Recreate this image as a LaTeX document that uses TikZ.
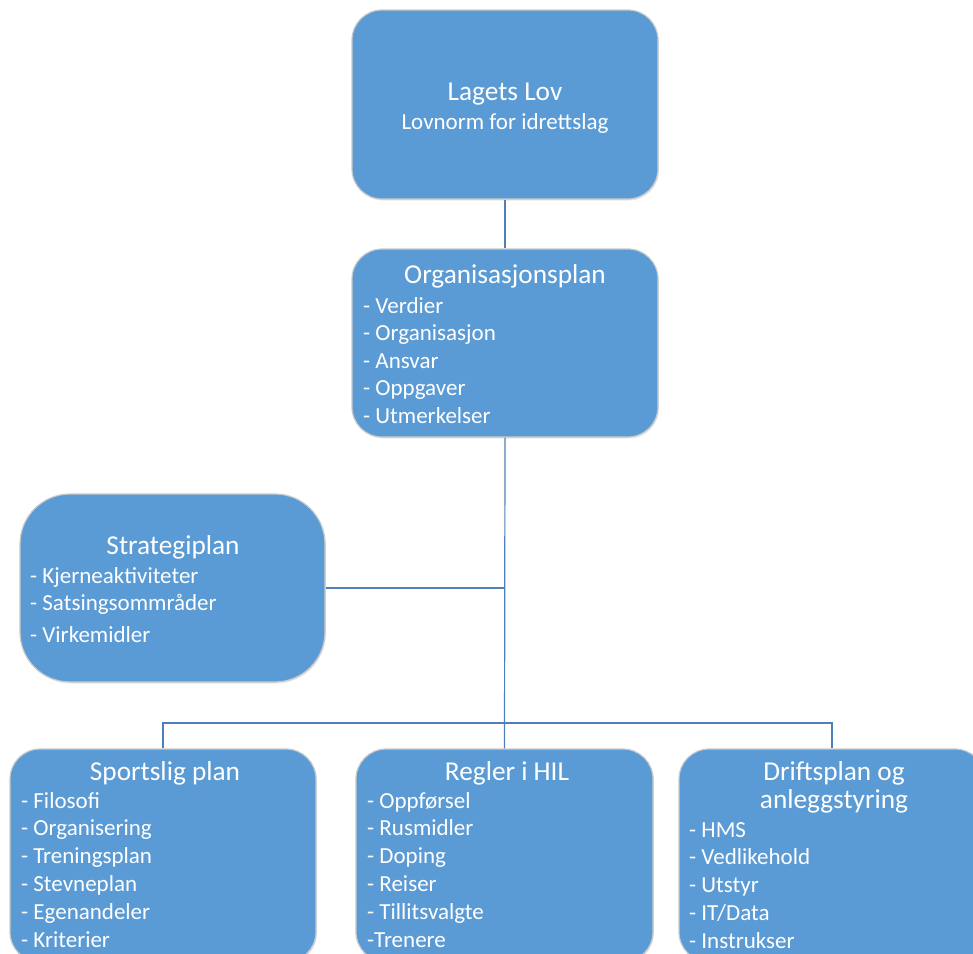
\documentclass[tikz,border=0pt]{standalone}
\usepackage{fontspec}
\setmainfont{Carlito}
\usetikzlibrary{shadows}

\definecolor{planblue}{HTML}{5B9BD5}
\definecolor{linkblue}{HTML}{4F7FB8}
\definecolor{planedge}{HTML}{CACACA}

\tikzset{
  plan/.style={draw=planedge, line width=1.2pt, fill=planblue, rounded corners=30pt,
    inner sep=0pt, minimum width=306pt, minimum height=189pt,
    drop shadow={opacity=0.18, shadow xshift=1pt, shadow yshift=-1.5pt}},
  heading/.style={anchor=base, inner sep=0pt, text=white, font=\fontsize{27.3}{32}\selectfont},
  subheading/.style={anchor=base, inner sep=0pt, text=white, font=\fontsize{23}{27.7}\selectfont},
  item/.style={anchor=base west, inner sep=0pt, text=white, font=\fontsize{23}{27.7}\selectfont},
  link/.style={draw=linkblue, line width=1.2pt}
}

\begin{document}
\begin{tikzpicture}[x=1pt, y=-1pt]
\useasboundingbox (0,0) rectangle (973,953);
\clip (0,0) rectangle (973,953);

% boxes
\node[plan] (lov) at (505,104.5) {};
\node[plan, minimum height=188pt] (org) at (505,343) {};
\node[plan, minimum width=305pt, minimum height=188pt, rounded corners=50pt] (strat) at (172.5,588) {};
\node[plan, minimum height=213pt] (sport) at (163,855.5) {};
\node[plan, minimum width=297pt, minimum height=213pt] (regler) at (504.5,855.5) {};
\node[plan, minimum height=213pt] (drift) at (832,855.5) {};

% connectors
\coordinate (bar) at (505,723);
\draw[link] (lov.south) -- (org.north);
\draw[link] (org.south) -- (regler.north);
\draw[link] (strat.east) -- (strat.east -| org.south);
\draw[link] (sport.north) |- (bar) -| (drift.north);

% Lagets Lov
\node[heading] (lovtitle) at (505,100) {Lagets Lov};
\node[subheading] (lovsub) at (505,129) {Lovnorm for idrettslag};

% Organisasjonsplan
\node[heading] (orgtitle) at (505,283) {Organisasjonsplan};
\foreach \t [count=\i from 0] in {Verdier, Organisasjon, Ansvar, Oppgaver, Utmerkelser}
  \node[item] at (363,313+27.6*\i) {- \t};

% Strategiplan
\node[heading] (strattitle) at (173,554) {Strategiplan};
\foreach \y/\t in {583/Kjerneaktiviteter, 610/Satsingsommråder, 642/Virkemidler}
  \node[item] at (30,\y) {- \t};

% Sportslig plan
\node[heading] (sporttitle) at (165,780) {Sportslig plan};
\foreach \t [count=\i from 0] in {Filosofi, Organisering, Treningsplan, Stevneplan, Egenandeler, Kriterier}
  \node[item] at (21,808+27.8*\i) {- \t};

% Regler i HIL
\node[heading] (reglertitle) at (507,780) {Regler i HIL};
\foreach \t [count=\i from 0] in {- Oppførsel, - Rusmidler, - Doping, - Reiser, - Tillitsvalgte, -Trenere}
  \node[item] at (367,808+27.8*\i) {\t};

% Driftsplan og anleggstyring
\node[heading] (drifttitle) at (834,780) {Driftsplan og};
\node[heading] (drifttitleb) at (834,808) {anleggstyring};
\foreach \t [count=\i from 0] in {HMS, Vedlikehold, Utstyr, IT/Data, Instrukser}
  \node[item] at (689,837+27.8*\i) {- \t};
\end{tikzpicture}
\end{document}
